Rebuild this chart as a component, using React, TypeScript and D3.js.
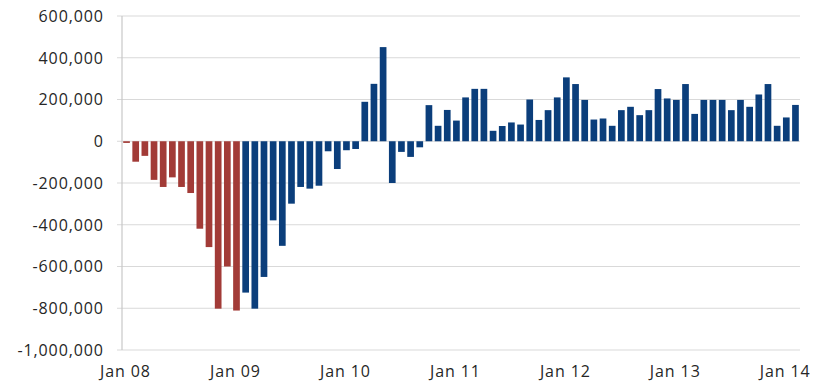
import React from "react";
import * as d3 from "d3";

const months: string[] = [];
const years = ["08", "09", "10", "11", "12", "13", "14"];
const monthNames = ["Jan", "Feb", "Mar", "Apr", "May", "Jun", "Jul", "Aug", "Sep", "Oct", "Nov", "Dec"];
years.forEach((y) => monthNames.forEach((m) => months.push(`${m} ${y}`)));

const values2008 = [-8000, -98000, -70000, -185000, -219000, -173000, -219000, -248000, -419000, -507000, -802000, -600000];
const values2009 = [-811000, -725000, -802000, -650000, -379000, -501000, -299000, -219000, -227000, -213000, -48000, -133000];
const values2010 = [-43000, -37000, 189000, 275000, 451000, -200000, -51000, -75000, -29000, 173000, 74000, 150000];
const values2011 = [99000, 210000, 251000, 251000, 50000, 73000, 90000, 80000, 200000, 102000, 149000, 210000];
const values2012 = [306000, 274000, 198000, 104000, 109000, 74000, 149000, 165000, 125000, 149000, 250000, 205000];
const values2013 = [198000, 274000, 131000, 198000, 198000, 198000, 149000, 198000, 165000, 224000, 274000, 74000];
const values2014 = [114000, 174000];

const values = [...values2008, ...values2009, ...values2010, ...values2011, ...values2012, ...values2013, ...values2014];
const categories = months.slice(0, values.length);
// first 13 months (Jan 08 - Jan 09) in red
const redCount = 13;

const yTicks = [600000, 400000, 200000, 0, -200000, -400000, -600000, -800000, -1000000];
const xTickLabels = ["Jan 08", "Jan 09", "Jan 10", "Jan 11", "Jan 12", "Jan 13", "Jan 14"];

const RED = "#a23b37";
const BLUE = "#0b3e7b";

export default function App() {
  const W = 820;
  const H = 383;
  const x = d3.scaleBand<string>().domain(categories).range([122, 800]).paddingInner(0.27).paddingOuter(0.13);
  const y = d3.scaleLinear().domain([-1000000, 600000]).range([350, 16]);
  const fmt = d3.formatLocale({ decimal: ".", thousands: ",", grouping: [3], currency: ["$", ""], minus: "-" }).format(",");
  const font = "'Open Sans', 'Noto Sans', sans-serif";
  const ls = 0.9;

  return (
    <svg width={W} height={H} style={{ position: "absolute", left: 0, top: 0 }}>
      <rect width={W} height={H} fill="#ffffff" />
      {yTicks.map((t) => (
        <g key={t}>
          <line x1={117} x2={800} y1={y(t)} y2={y(t)} stroke="#d9d9d9" strokeWidth={1.2} />
          <text x={103 + ls} y={y(t)} dy="0.36em" textAnchor="end" fontFamily={font} fontSize={16} letterSpacing={ls} fill="#262626">
            {fmt(t)}
          </text>
        </g>
      ))}
      <line x1={122} x2={122} y1={16} y2={350} stroke="#c8c8c8" strokeWidth={1.2} />
      {values.map((v, i) => {
        const c = categories[i];
        const y0 = y(0);
        const yv = y(v);
        return (
          <rect
            key={c}
            x={x(c)}
            width={x.bandwidth()}
            y={Math.min(y0, yv)}
            height={Math.max(1, Math.abs(yv - y0))}
            fill={i < redCount ? RED : BLUE}
          />
        );
      })}
      {xTickLabels.map((l) => (
        <text key={l} x={(x(l) ?? 0) + x.bandwidth() / 2 - 1.5 + ls / 2} y={377} textAnchor="middle" fontFamily={font} fontSize={16} letterSpacing={ls} fill="#262626">
          {l}
        </text>
      ))}
    </svg>
  );
}
